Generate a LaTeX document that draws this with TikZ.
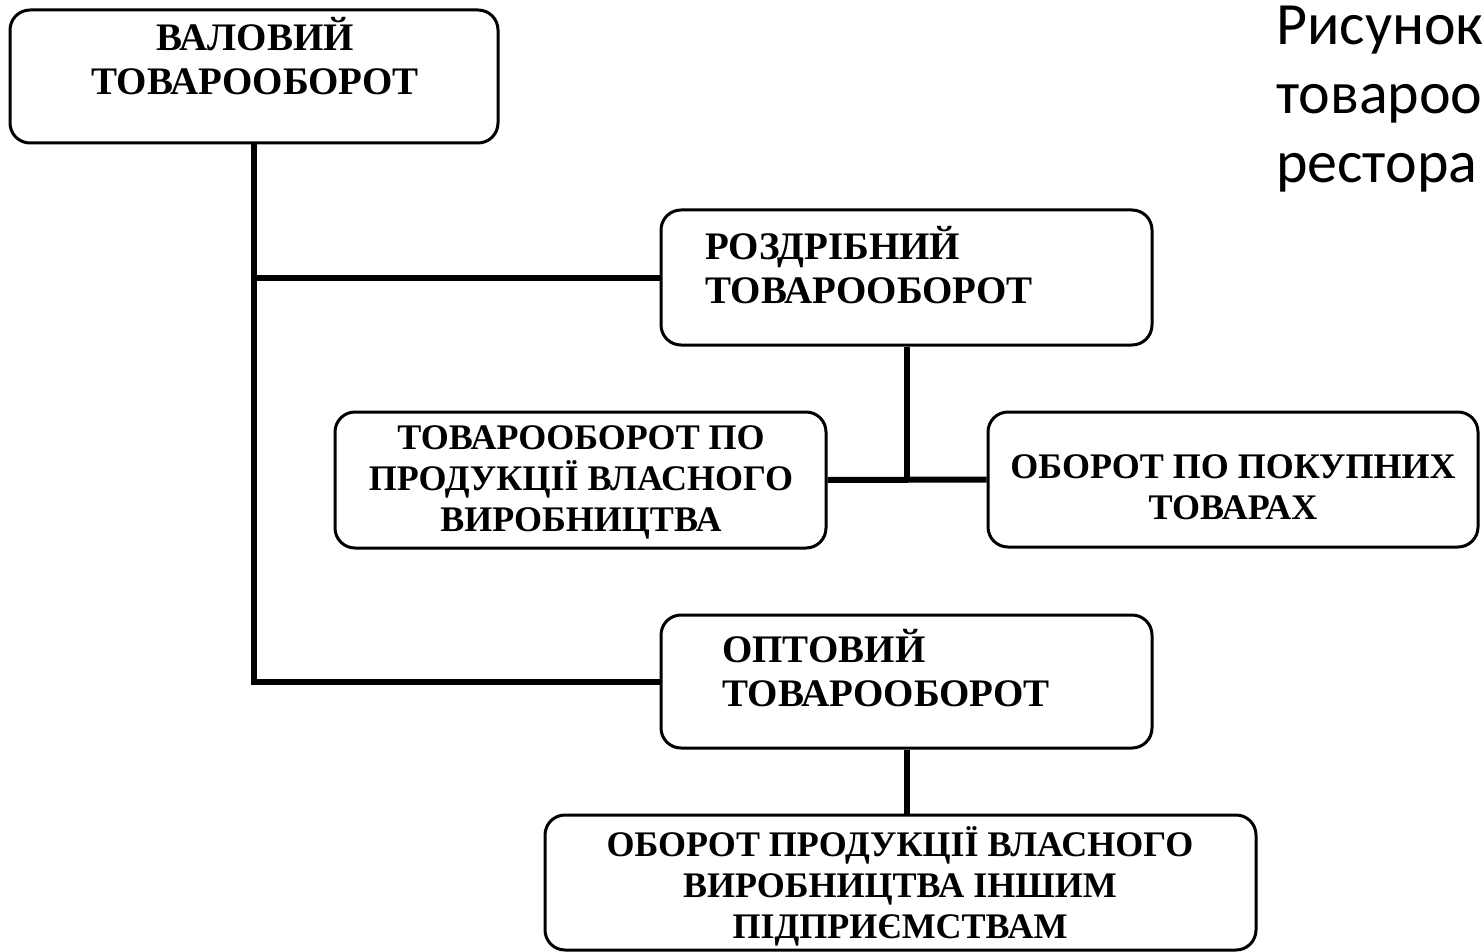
\documentclass[tikz,border=0pt]{standalone}
\usepackage{fontspec}
\setmainfont{Liberation Serif}
\newfontfamily\capfont{Carlito}
\begin{document}
\begin{tikzpicture}[x=1pt, y=-1pt,
      cell/.style={draw, line width=3pt, rounded corners=20pt, inner sep=0pt},
      wire/.style={line width=6pt},
      label/.style={font=\bfseries\fontsize{39}{44}\selectfont, inner sep=0pt},
      small/.style={font=\bfseries\fontsize{36}{41}\selectfont, inner sep=0pt, align=center}]
    \clip (0,0) rectangle (1483,952);
    % boxes
    \node[cell, minimum width=488, minimum height=133] (valovyi) at (254,76.5) {};
    \node[cell, minimum width=491, minimum height=135] (rozdribnyi) at (906.5,277.5) {};
    \node[cell, minimum width=491, minimum height=136] (vlasne) at (580.5,480) {};
    \node[cell, minimum width=490, minimum height=135] (pokupni) at (1233,479.5) {};
    \node[cell, minimum width=491, minimum height=133] (optovyi) at (906.5,681.5) {};
    \node[cell, minimum width=711, minimum height=135] (inshym) at (900.5,882.5) {};
    % texts
    \node[label, align=center] (valovyi-t) at (255,56) {ВАЛОВИЙ\\ТОВАРООБОРОТ};
    \node[label, align=left, anchor=west] (rozdribnyi-t) at (705,265) {РОЗДРІБНИЙ\\ТОВАРООБОРОТ};
    \node[small] (vlasne-t) at (581,482) {ТОВАРООБОРОТ ПО\\ПРОДУКЦІЇ ВЛАСНОГО\\ВИРОБНИЦТВА};
    \node[small] (pokupni-t) at (1233,487) {ОБОРОТ ПО ПОКУПНИХ\\ТОВАРАХ};
    \node[label, align=left, anchor=west] (optovyi-t) at (722,668) {ОПТОВИЙ\\ТОВАРООБОРОТ};
    \node[small] (inshym-t) at (900,886)
      {ОБОРОТ ПРОДУКЦІЇ ВЛАСНОГО\\ВИРОБНИЦТВА ІНШИМ\\ПІДПРИЄМСТВАМ};
    \node[anchor=north west, align=left, inner sep=0pt,
          font=\capfont\fontsize{60}{69}\selectfont] (caption) at (1276,6)
      {Рисунок\\товароо\\рестора};
    % connectors
    \draw[wire] (valovyi.south) -- (valovyi.south |- optovyi.west) -- (optovyi.west);
    \draw[wire] (valovyi.south |- rozdribnyi.west) -- (rozdribnyi.west);
    \draw[wire] (rozdribnyi.south) -- (rozdribnyi.south |- vlasne.east);
    \draw[wire] (vlasne.east) -- (pokupni.west);
    \draw[wire] (optovyi.south) -- (optovyi.south |- inshym.north);
  \end{tikzpicture}
\end{document}
